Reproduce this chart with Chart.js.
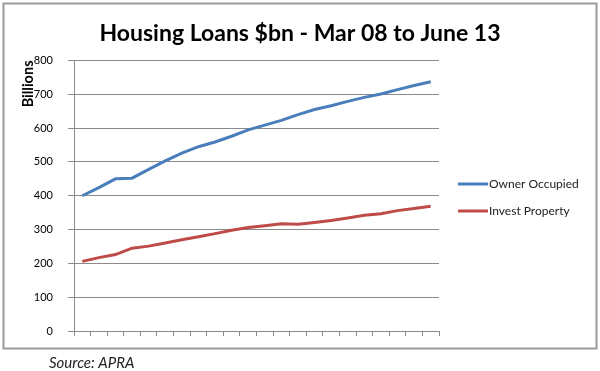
<!DOCTYPE html>
<html>
<head>
<meta charset="utf-8">
<script src="https://cdn.jsdelivr.net/npm/chart.js@4"></script>
<style>
  html, body { margin: 0; padding: 0; background: #ffffff; }
  #wrap { width: 600px; height: 371px; position: relative; }
</style>
</head>
<body>
<div id="wrap"><canvas id="c" width="600" height="371"></canvas></div>
<script>
const titleText = "Housing Loans $bn - Mar 08 to June 13";
const yAxisTitle = "Billions";
const sourceText = "Source: APRA";
const quarters = ["Mar 08","Jun 08","Sep 08","Dec 08","Mar 09","Jun 09","Sep 09","Dec 09",
  "Mar 10","Jun 10","Sep 10","Dec 10","Mar 11","Jun 11","Sep 11","Dec 11",
  "Mar 12","Jun 12","Sep 12","Dec 12","Mar 13","Jun 13"];
const seriesNames = ["Owner Occupied", "Invest Property"];
const ownerOccupied = [400,424,450,452,478,503,526,545,559,576,595,609,623,640,655,666,679,691,701,714,726,737];
const investProperty = [206,217,226,245,251,260,270,279,288,298,306,311,317,316,321,327,334,342,347,356,362,369];
const yTicks = [0,100,200,300,400,500,600,700,800];

const gridColor = '#8a8a8a';

const extras = {
  id: 'extras',
  afterDraw(chart) {
    const ctx = chart.ctx;
    ctx.save();
    // outer border
    ctx.strokeStyle = '#9a9a9a';
    ctx.lineWidth = 2;
    ctx.strokeRect(3.5, 3.5, 593, 345);
    // title
    ctx.font = 'bold 23px Lato';
    ctx.fillStyle = '#000';
    ctx.textAlign = 'center';
    ctx.textBaseline = 'alphabetic';
    ctx.fillText(titleText, 300, 40.5);
    // legend
    const items = chart.data.datasets;
    const lx = 458, ly0 = 184, gap = 27;
    ctx.font = '12px Lato';
    ctx.textBaseline = 'middle';
    ctx.textAlign = 'left';
    items.forEach((ds, i) => {
      const y = ly0 + i * gap;
      ctx.strokeStyle = ds.borderColor;
      ctx.lineWidth = 3;
      ctx.beginPath();
      ctx.moveTo(lx, y);
      ctx.lineTo(lx + 30, y);
      ctx.stroke();
      ctx.fillStyle = '#222';
      ctx.fillText(ds.label, lx + 31, y);
    });
    // source
    ctx.font = 'italic 15px Lato';
    ctx.fillStyle = '#222';
    ctx.textBaseline = 'middle';
    ctx.fillText(sourceText, 49, 363);
    ctx.restore();
  }
};

new Chart(document.getElementById('c'), {
  type: 'line',
  data: {
    labels: quarters,
    datasets: [
      { label: seriesNames[0], data: ownerOccupied, borderColor: '#4a7ebb', backgroundColor: '#4a7ebb',
        borderWidth: 3, pointRadius: 0, tension: 0, fill: false },
      { label: seriesNames[1], data: investProperty, borderColor: '#be4b48', backgroundColor: '#be4b48',
        borderWidth: 3, pointRadius: 0, tension: 0, fill: false }
    ]
  },
  options: {
    responsive: false,
    animation: false,
    layout: { padding: { left: 0, right: 161, top: 60.5, bottom: 35 } },
    plugins: {
      legend: { display: false },
      tooltip: { enabled: false },
      title: { display: false }
    },
    scales: {
      x: {
        type: 'category',
        offset: true,
        afterFit(s) { s.height = 5; },
        grid: { display: true, drawOnChartArea: false, drawTicks: true, tickLength: 5, offset: true, color: gridColor },
        border: { display: true, color: gridColor },
        ticks: { display: false }
      },
      y: {
        min: 0, max: 800,
        afterFit(s) { s.width = 74; },
        afterBuildTicks(s) { s.ticks = yTicks.map(v => ({ value: v })); },
        grid: { color: gridColor, tickLength: 6, drawTicks: true },
        border: { display: true, color: gridColor },
        ticks: { padding: 15, color: '#000', font: { family: 'Lato', size: 11 } },
        title: {
          display: true, text: yAxisTitle, align: 'end', color: '#000',
          font: { family: 'Lato', size: 14.5, weight: 'bold', lineHeight: 1.2 },
          padding: { top: 20, bottom: 0 }
        }
      }
    }
  },
  plugins: [extras]
});
</script>
</body>
</html>
